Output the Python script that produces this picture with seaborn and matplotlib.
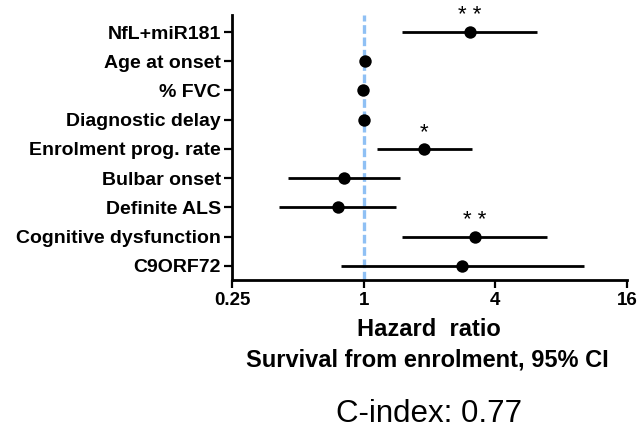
import numpy as np
import pandas as pd
import matplotlib
matplotlib.use("Agg")
import matplotlib.pyplot as plt
import matplotlib.ticker as ticker
import seaborn as sns

# Hazard ratios with 95% CI
variables = ["NfL+miR181", "Age at onset", "% FVC", "Diagnostic delay",
             "Enrolment prog. rate", "Bulbar onset", "Definite ALS",
             "Cognitive dysfunction", "C9ORF72"]
hazard_ratio = [3.05, 1.01, 0.99, 1.00, 1.89, 0.81, 0.76, 3.23, 2.83]
ci_low = [1.50, 1.01, 0.99, 1.00, 1.15, 0.45, 0.41, 1.49, 0.79]
ci_high = [6.23, 1.01, 0.99, 1.00, 3.13, 1.47, 1.40, 6.93, 10.2]
significance = ["**", "", "", "", "*", "", "", "**", ""]
x_ticks = [0.25, 1, 4, 16]

df = pd.DataFrame({"var": variables, "hr": hazard_ratio,
                   "lo": ci_low, "hi": ci_high, "sig": significance})
df["pos"] = np.arange(len(df))

sns.set_style("ticks")
plt.rcParams["font.family"] = ["Liberation Sans", "DejaVu Sans"]
# plain black text / axes like the original (seaborn defaults to dark grey)
for k in ["text.color", "axes.labelcolor", "xtick.color", "ytick.color",
          "axes.edgecolor"]:
    plt.rcParams[k] = "black"

fig = plt.figure(figsize=(6.41, 4.30), dpi=100)
ax = fig.add_axes([0.362, 0.349, 0.616, 0.616])

# reference line at HR = 1
ax.axvline(1, color="#8fc0f4", lw=2.4, ls=(0, (2.6, 1.1)), zorder=1)

# confidence intervals + point estimates
ax.hlines(df["pos"], df["lo"], df["hi"], color="black", lw=2.0, zorder=2)
sns.scatterplot(data=df, x="hr", y="pos", ax=ax, color="black", s=80,
                edgecolor="black", linewidth=0, zorder=3, legend=False)

# significance stars
for _, r in df.iterrows():
    if r["sig"]:
        ax.text(r["hr"], r["pos"] - 0.2, " ".join(r["sig"]), ha="center",
                va="bottom", fontsize=16)

ax.set_xscale("log", base=2)
ax.set_xlim(x_ticks[0], x_ticks[-1])
ax.set_xticks(x_ticks)
ax.xaxis.set_major_formatter(ticker.FuncFormatter(lambda v, p: f"{v:g}"))
ax.xaxis.set_minor_locator(ticker.NullLocator())
ax.set_ylim(len(df) - 0.52, -0.58)
ax.set_yticks(df["pos"])
ax.set_yticklabels(df["var"])
ax.set_xlabel("")
ax.set_ylabel("")

for s in ["top", "right"]:
    ax.spines[s].set_visible(False)
for s in ["left", "bottom"]:
    ax.spines[s].set_linewidth(2.0)
ax.tick_params(axis="both", width=1.6, length=6, pad=2)
ax.tick_params(axis="y", labelsize=14)
ax.tick_params(axis="x", labelsize=13.5, pad=3)
for lab in ax.get_xticklabels() + ax.get_yticklabels():
    lab.set_fontweight("bold")

fig.text(0.669, 1 - 330 / 430, "Hazard  ratio", ha="center", va="center",
         fontsize=17, fontweight="bold")
fig.text(0.667, 1 - 360 / 430, "Survival from enrolment, 95% CI", ha="center",
         va="center", fontsize=17, fontweight="bold")
fig.text(0.67, 1 - 414 / 430, "C-index: 0.77", ha="center", va="center",
         fontsize=22.5)

fig.savefig("out.png", dpi=100)
